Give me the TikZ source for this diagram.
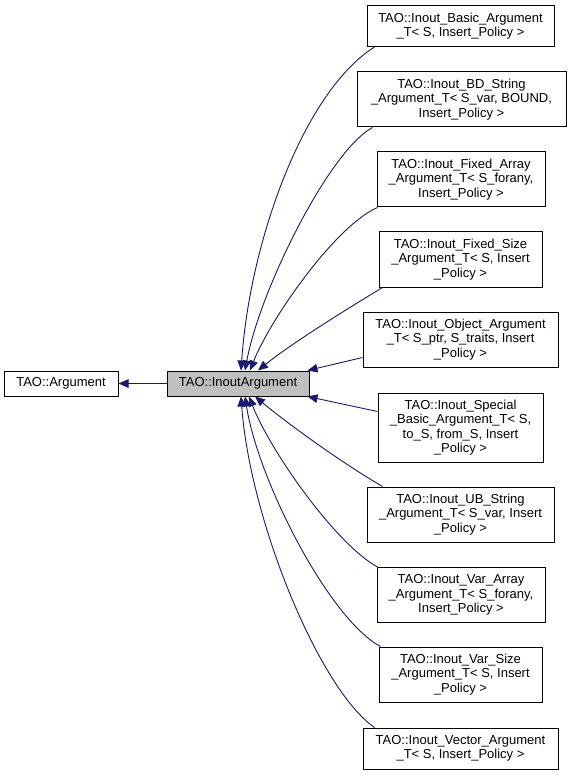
\documentclass[tikz,border=0pt]{standalone}
\usepackage{fontspec}
\setmainfont{Liberation Sans}
\usetikzlibrary{arrows.meta}
\definecolor{edgeblue}{RGB}{25,25,112}
\definecolor{thisgray}{RGB}{191,191,191}

\begin{document}
\begin{tikzpicture}[x=1pt, y=-1pt,
  classbox/.style={draw=black, line width=1pt, fill=white, rectangle, align=center,
    inner sep=0pt, font=\fontsize{13}{14.5}\selectfont},
  inherit/.style={draw=edgeblue, line width=0.9pt, -{Triangle[length=10pt,width=8.5pt]}}]
  \path[fill=white] (0,0) rectangle (569,775);
  \useasboundingbox (0,0) rectangle (569,775);
  % base classes
  \node [classbox, minimum width=114pt, minimum height=25pt] (arg) at (61,383.5) {TAO::Argument};
  \node [classbox, fill=thisgray, minimum width=142pt, minimum height=25pt] (inout) at (238,383.5) {TAO::InoutArgument};
  \draw [inherit] (inout) -- (arg);
  % derived templates
  \node [classbox, minimum width=187pt, minimum height=41pt] (basic) at (460.5,26) {TAO::Inout\_Basic\_Argument\\\_T< S, Insert\_Policy >};
  \draw [inherit] ([xshift=8pt]basic.south west) .. controls +(-70,44) and +(9,-131) .. ([xshift=3pt]inout.north);
  \node [classbox, minimum width=209pt, minimum height=55pt] (bdstr) at (461.5,99.5) {TAO::Inout\_BD\_String\\\_Argument\_T< S\_var, BOUND,\\Insert\_Policy >};
  \draw [inherit] ([xshift=16pt]bdstr.south west) .. controls +(-43,23) and +(15,-81) .. ([xshift=7pt]inout.north);
  \node [classbox, minimum width=168pt, minimum height=55pt] (fixarr) at (461,179.5) {TAO::Inout\_Fixed\_Array\\\_Argument\_T< S\_forany,\\Insert\_Policy >};
  \draw [inherit] ([xshift=1pt]fixarr.south west) .. controls +(-42,18) and +(20,-51) .. ([xshift=12pt]inout.north);
  \node [classbox, minimum width=163pt, minimum height=55pt] (fixsize) at (460.5,259.5) {TAO::Inout\_Fixed\_Size\\\_Argument\_T< S, Insert\\\_Policy >};
  \draw [inherit] ([xshift=4pt]fixsize.south west) .. controls +(-38,23) and +(32,-26) .. ([xshift=20pt]inout.north);
  \node [classbox, minimum width=195pt, minimum height=55pt] (obj) at (460.5,339.5) {TAO::Inout\_Object\_Argument\\\_T< S\_ptr, S\_traits, Insert\\\_Policy >};
  \draw [inherit] ([yshift=-18pt]obj.west) -- ([xshift=-2pt]inout.north east);
  \node [classbox, minimum width=165pt, minimum height=69pt] (special) at (460.5,427.5) {TAO::Inout\_Special\\\_Basic\_Argument\_T< S,\\to\_S, from\_S, Insert\\\_Policy >};
  \draw [inherit] ([yshift=16pt]special.west) -- ([xshift=-2pt]inout.south east);
  \node [classbox, minimum width=187pt, minimum height=55pt] (ubstr) at (460.5,514.5) {TAO::Inout\_UB\_String\\\_Argument\_T< S\_var, Insert\\\_Policy >};
  \draw [inherit] ([xshift=16pt]ubstr.north west) .. controls +(-38,-22) and +(35,29) .. ([xshift=17pt]inout.south);
  \node [classbox, minimum width=168pt, minimum height=55pt] (vararr) at (461,595) {TAO::Inout\_Var\_Array\\\_Argument\_T< S\_forany,\\Insert\_Policy >};
  \draw [inherit] ([xshift=1pt]vararr.north west) .. controls +(-42,-23) and +(21,54) .. ([xshift=11pt]inout.south);
  \node [classbox, minimum width=163pt, minimum height=55pt] (varsize) at (460.5,674.5) {TAO::Inout\_Var\_Size\\\_Argument\_T< S, Insert\\\_Policy >};
  \draw [inherit] ([xshift=2pt]varsize.north west) .. controls +(-51,-27) and +(13,84) .. ([xshift=7pt]inout.south);
  \node [classbox, minimum width=195pt, minimum height=41pt] (vector) at (460.5,748.5) {TAO::Inout\_Vector\_Argument\\\_T< S, Insert\_Policy >};
  \draw [inherit] ([xshift=12pt]vector.north west) .. controls +(-55,-38) and +(9,124) .. ([xshift=3pt]inout.south);
\end{tikzpicture}
\end{document}
